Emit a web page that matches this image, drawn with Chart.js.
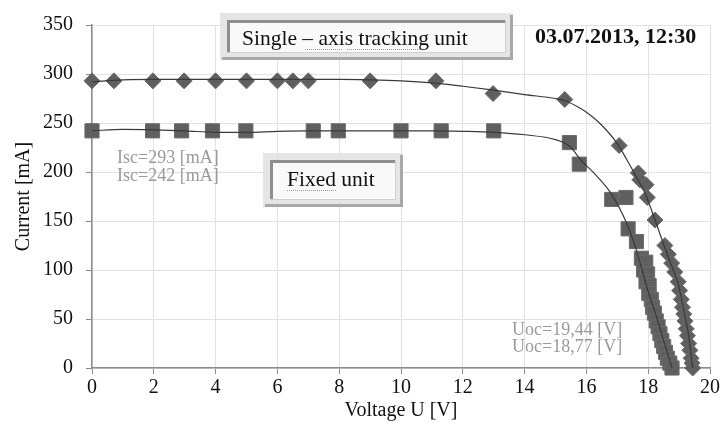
<!DOCTYPE html>
<html>
<head>
<meta charset="utf-8">
<script src="https://cdn.jsdelivr.net/npm/chart.js@4.4.1/dist/chart.umd.min.js"></script>
<style>
  body { margin: 0; background: #fff; }
</style>
</head>
<body>
<canvas id="ivChart" width="722" height="430"></canvas>
<script>
// measured points, single-axis tracking unit (diamonds)
const trackV = [0, 0.71, 1.97, 2.98, 4.0, 5.0, 6.0, 6.5, 7.0, 9.0, 11.13, 12.98, 15.3, 17.06,
  17.68, 17.73, 17.93, 17.97, 18.22, 18.54, 18.65, 18.76, 18.86, 18.97, 19.02, 19.07,
  19.11, 19.15, 19.19, 19.23, 19.27, 19.31, 19.35, 19.39, 19.42, 19.44];
const trackI = [293, 293, 293, 293, 293, 293, 293, 293, 293, 293, 293, 280, 274, 227,
  199, 192, 187, 174, 151, 125, 116, 107, 98, 88, 79, 70,
  62, 55, 48, 40, 33, 25, 18, 10, 5, 0];

// measured points, fixed unit (squares)
const fixedV = [0, 1.96, 2.9, 3.9, 4.98, 7.16, 7.97, 10.0, 11.3, 13.0, 15.45, 15.77, 16.82,
  17.28, 17.35, 17.62, 17.78, 17.92, 17.85, 17.98, 17.93, 18.03, 18.02, 18.1, 18.14, 18.2,
  18.26, 18.32, 18.38, 18.44, 18.5, 18.56, 18.62, 18.7, 18.77];
const fixedI = [242, 242, 242, 242, 242, 242, 242, 242, 242, 242, 230, 208, 172,
  174, 142, 129, 112, 108, 100, 96, 88, 84, 76, 70, 62, 56,
  48, 42, 35, 28, 22, 16, 10, 5, 0];

// trend lines
const trackFitV = [0, 1, 2, 4, 6, 8, 9, 10, 11, 12, 13, 14, 15, 15.3, 15.8, 16, 16.44, 17,
  17.3, 17.6, 17.9, 18.2, 18.5, 18.76, 18.97, 19.1, 19.2, 19.3, 19.44];
const trackFitI = [292, 294, 294.5, 294.5, 294.5, 294.5, 294, 293, 291, 287.5, 283.5, 279, 275, 273, 265, 261, 249.5, 229,
  213, 196, 178, 153, 126, 104, 86, 67, 51, 35, 0];

const fixedFitV = [0, 1, 2, 3, 4, 5, 6, 7, 8, 10, 11, 12, 13, 14, 15, 15.47, 15.8, 16.3,
  16.8, 17.3, 17.6, 17.8, 18.0, 18.27, 18.5, 18.77];
const fixedFitI = [242, 243.5, 243, 242, 240.5, 240.5, 241.5, 242, 242, 242, 242, 241.5, 240.5, 238, 233, 226, 213, 197,
  178, 148, 122, 100, 78, 52, 28, 0];

const xTicks = [0, 2, 4, 6, 8, 10, 12, 14, 16, 18, 20];
const yTicks = [0, 50, 100, 150, 200, 250, 300, 350];

const serif = "'Liberation Serif', 'Times New Roman', serif";

function pts(xs, ys) {
  return xs.map((x, i) => ({ x: x, y: ys[i] }));
}

function frame(c, x, y, w, h) {
  // outer light frame
  c.fillStyle = "rgba(225,225,225,0.85)";
  c.fillRect(x, y, w, h);
  c.fillStyle = "rgba(255,255,255,0.8)";
  c.fillRect(x + 7, y + 7, w - 14, h - 14);
  c.fillStyle = "#a8a8a8";
  c.fillRect(x + w - 3, y + 2, 3, h - 2);
  c.fillRect(x + 2, y + h - 3, w - 2, 3);
  // inner box, thick upper and left edge
  c.fillStyle = "#8e8e8e";
  c.fillRect(x + 7, y + 7, w - 14, 3);
  c.fillRect(x + 7, y + 7, 3, h - 14);
  c.fillStyle = "#d0d0d0";
  c.fillRect(x + w - 8, y + 7, 1, h - 14);
  c.fillRect(x + 7, y + h - 8, w - 14, 1);
}

function dots(c, x0, x1, y) {
  c.fillStyle = "#9a9a9a";
  for (let x = x0; x < x1; x += 2) c.fillRect(x, y, 1, 1);
}

const notes = {
  id: "notes",
  afterDraw(chart) {
    const c = chart.ctx;
    c.save();
    frame(c, 220, 13, 293, 47);
    frame(c, 263, 153, 140, 54);

    dots(c, 305, 342, 49);
    dots(c, 347, 421, 49);
    dots(c, 287, 336, 190);

    c.fillStyle = "#111";
    c.textBaseline = "alphabetic";
    c.font = "21.5px " + serif;
    c.fillText("Single \u2013 axis tracking unit", 242, 45);
    c.fillText("Fixed unit", 287, 186);

    c.font = "bold 22px " + serif;
    c.fillText("03.07.2013, 12:30", 535, 43);

    c.fillStyle = "#9a9a9a";
    c.font = "18px " + serif;
    c.fillText("Isc=293 [mA]", 117, 163);
    c.fillText("Isc=242 [mA]", 117, 181);
    c.fillText("Uoc=19,44 [V]", 512, 335);
    c.fillText("Uoc=18,77 [V]", 512, 352);
    c.restore();
  }
};

const ctx = document.getElementById("ivChart").getContext("2d");

new Chart(ctx, {
  type: "scatter",
  data: {
    datasets: [
      {
        label: "trend tracking",
        data: pts(trackFitV, trackFitI),
        showLine: true,
        borderColor: "#3a3a3a",
        borderWidth: 1.2,
        pointRadius: 0,
        cubicInterpolationMode: "monotone",
        order: 1
      },
      {
        label: "trend fixed",
        data: pts(fixedFitV, fixedFitI),
        showLine: true,
        borderColor: "#3a3a3a",
        borderWidth: 1.2,
        pointRadius: 0,
        cubicInterpolationMode: "monotone",
        order: 1
      },
      {
        label: "Single - axis tracking unit",
        data: pts(trackV, trackI),
        pointStyle: "rectRot",
        pointRadius: 8,
        backgroundColor: "#5f5f5f",
        borderColor: "#6b6b6b",
        borderWidth: 1,
        clip: false,
        order: 2
      },
      {
        label: "Fixed unit",
        data: pts(fixedV, fixedI),
        pointStyle: "rect",
        pointRadius: 10,
        backgroundColor: "#5f5f5f",
        borderColor: "#6b6b6b",
        borderWidth: 1,
        clip: false,
        order: 3
      }
    ]
  },
  options: {
    responsive: false,
    animation: false,
    layout: { padding: { left: 0, right: 12, top: 20, bottom: 0 } },
    plugins: {
      legend: { display: false },
      tooltip: { enabled: false }
    },
    scales: {
      x: {
        type: "linear",
        min: 0,
        max: 20,
        afterFit: function (scale) { scale.height = 62; },
        afterBuildTicks: function (scale) { scale.ticks = xTicks.map(v => ({ value: v })); },
        grid: { color: "#e2e2e2", tickColor: "#8c8c8c", tickLength: 6 },
        border: { color: "#8c8c8c", width: 1.5 },
        ticks: { color: "#111", padding: 2, font: { family: serif, size: 20 } },
        title: {
          display: true,
          text: "Voltage U [V]",
          color: "#111",
          font: { family: serif, size: 20 },
          padding: { top: 0, bottom: 7 }
        }
      },
      y: {
        type: "linear",
        min: 0,
        max: 350,
        afterFit: function (scale) { scale.width = 92; },
        afterBuildTicks: function (scale) { scale.ticks = yTicks.map(v => ({ value: v })); },
        grid: { color: "#e2e2e2", tickColor: "#8c8c8c", tickLength: 6 },
        border: { color: "#8c8c8c", width: 1.5 },
        ticks: { color: "#111", padding: 13, font: { family: serif, size: 20 } },
        title: {
          display: true,
          text: "Current [mA]",
          color: "#111",
          font: { family: serif, size: 20 },
          padding: { top: 12, bottom: 0 }
        }
      }
    }
  },
  plugins: [notes]
});
</script>
</body>
</html>
